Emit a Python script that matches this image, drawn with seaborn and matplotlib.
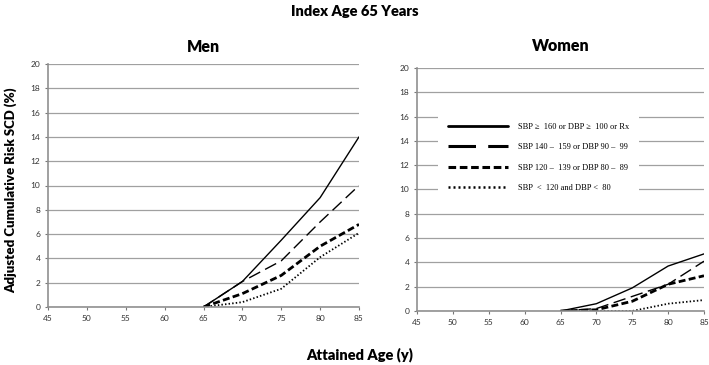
import matplotlib
matplotlib.use("Agg")
import matplotlib.pyplot as plt
import seaborn as sns
import pandas as pd

ages = [65, 70, 75, 80, 85]
labels = ["SBP \u2265  160 or DBP \u2265  100 or Rx",
          "SBP 140 \u2013  159 or DBP 90 \u2013  99",
          "SBP 120 \u2013  139 or DBP 80 \u2013  89",
          "SBP  <  120 and DBP <  80"]
men_high = [0, 2.1, 5.5, 9.0, 14.0]
men_stage1 = [0, 2.1, 3.8, 7.0, 10.0]
men_prehyp = [0, 1.1, 2.6, 5.0, 6.8]
men_normal = [0, 0.4, 1.5, 4.1, 6.1]
women_high = [0, 0.6, 1.9, 3.7, 4.7]
women_stage1 = [0, 0.2, 1.2, 2.2, 4.1]
women_prehyp = [0, 0.1, 0.8, 2.2, 2.9]
women_normal = [0, 0.0, 0.0, 0.6, 0.9]
x_ticks = [45, 50, 55, 60, 65, 70, 75, 80, 85]
y_ticks = [0, 2, 4, 6, 8, 10, 12, 14, 16, 18, 20]

sns.set_theme(style="white")
plt.rcParams['font.family'] = ['Lato', 'DejaVu Sans']
plt.rcParams['text.color'] = 'black'

styles = [
    dict(lw=1.0, ls='-', leg_lw=2.0),
    dict(lw=1.0, ls=(0, (9, 4)), leg_lw=2.2),
    dict(lw=2.0, ls=(0, (2.5, 1.2)), leg_lw=2.2),
    dict(lw=1.3, ls=(0, (0.8, 1.2)), leg_lw=1.8),
]

fig = plt.figure(figsize=(7.09, 3.65), dpi=100)
ax_m = fig.add_axes([48/709, 1-307/365, 311/709, 243/365])
ax_w = fig.add_axes([417/709, 1-311/365, 287/709, 243/365])

def draw(ax, series, title, pad):
    for lab, vals, st in zip(labels, series, styles):
        df = pd.DataFrame({"age": ages, "risk": vals})
        sns.lineplot(data=df, x="age", y="risk", ax=ax, color="black",
                     linewidth=st['lw'], linestyle=st['ls'], label=lab)
    ax.set_xlim(45, 85)
    ax.set_ylim(0, 20)
    ax.set_xticks(x_ticks)
    ax.set_yticks(y_ticks)
    ax.tick_params(axis='both', labelsize=6, colors='#777777', length=2.5,
                   width=0.8, direction='out', left=True, bottom=True, pad=3)
    for t in ax.get_xticklabels() + ax.get_yticklabels():
        t.set_color('#333333')
    ax.yaxis.grid(True, color='#a0a0a0', linewidth=0.9)
    ax.set_axisbelow(True)
    for s in ['top', 'right']:
        ax.spines[s].set_visible(False)
    for s in ['left', 'bottom']:
        ax.spines[s].set_color('#909090')
        ax.spines[s].set_linewidth(1.2)
    ax.set_xlabel("")
    ax.set_ylabel("")
    ax.set_title(title, fontsize=11.5, fontweight='heavy', pad=pad, color='black')

draw(ax_m, [men_high, men_stage1, men_prehyp, men_normal], "Men", 9)
draw(ax_w, [women_high, women_stage1, women_prehyp, women_normal], "Women", 12)
ax_m.get_legend().remove()
leg = ax_w.legend(loc='upper left', bbox_to_anchor=(0.06, 0.83), frameon=True,
                  facecolor='white', edgecolor='none', framealpha=1,
                  handlelength=7.2, handletextpad=1.3, labelspacing=1.5,
                  borderpad=1.1, fancybox=False,
                  prop={'family': 'Liberation Serif', 'size': 6})
for h, st in zip(leg.get_lines(), styles):
    h.set_linewidth(st['leg_lw'])

fig.text(0.5, 1-12/365, "Index Age 65 Years", ha='center', va='center',
         fontsize=10.5, fontweight='heavy')
fig.text(11/709, 1-190/365, "Adjusted Cumulative Risk SCD (%)", rotation=90,
         ha='center', va='center', fontsize=9.5, fontweight='heavy')
fig.text(360/709, 1-355/365, "Attained Age (y)", ha='center', va='center',
         fontsize=10.5, fontweight='heavy')

fig.savefig("out.png", dpi=100)
